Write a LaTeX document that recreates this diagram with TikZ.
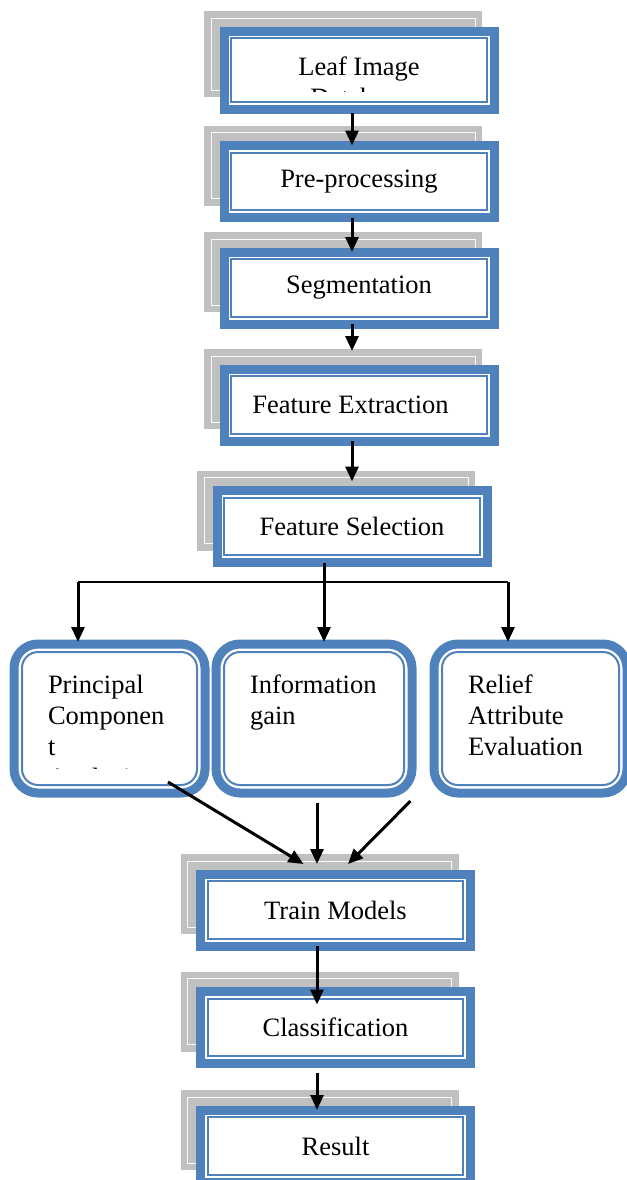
\documentclass[tikz,border=0pt]{standalone}
\usepackage{fontspec}
\setmainfont{Liberation Serif}
\usepackage{tikz}
\usetikzlibrary{arrows.meta}
\usetikzlibrary{backgrounds}
\definecolor{boxblue}{HTML}{4F81BD}
\definecolor{shadegray}{HTML}{C0C0C0}
\newcommand{\boxfont}{\fontsize{13.25pt}{15.5pt}\selectfont}
\tikzstyle{every node}+=[inner sep=0pt, outer sep=0pt]
\tikzstyle{block} = [rectangle, draw=boxblue, fill=white, line width=4.5pt, font=\boxfont, text centered, minimum width=135pt, minimum height=36pt,
  path picture={\draw[boxblue, line width=1pt] ([shift={(3.7pt,-3.7pt)}]path picture bounding box.north west) rectangle ([shift={(-3.7pt,3.7pt)}]path picture bounding box.south east);}]
\tikzstyle{method} = [rectangle, rounded corners=12pt, draw=boxblue, fill=white, line width=4.5pt, minimum height=74.5pt,
  path picture={\draw[boxblue, line width=1pt, rounded corners=8pt] ([shift={(4pt,-4pt)}]path picture bounding box.north west) rectangle ([shift={(-4pt,4pt)}]path picture bounding box.south east);}]
\tikzstyle{boxtext} = [font=\boxfont, align=left, anchor=north west]
\tikzstyle{shadowfill} = [fill=shadegray]
\tikzstyle{shadowline} = [draw=white!90!shadegray, line width=0.45pt]
\tikzstyle{line} = [draw, line width=1.5pt, -{Triangle[length=7.5pt,width=6.5pt]}]
\tikzstyle{forkline} = [draw, line width=1pt]

\begin{document}
\begin{tikzpicture}[x=0.5pt, y=-0.5pt]
  \useasboundingbox (0,0) rectangle (627,1180);
  % Place nodes
  \node [block, minimum height=39pt] (leaf) at (359,70) {};
  \node [block] (pre) at (359,181.5) {Pre-processing};
  \node [block] (seg) at (359,288) {Segmentation};
  \node [block] (fext) at (359,405) {\hspace*{-8.5pt}Feature Extraction};
  \node [block] (fsel) at (352,526.5) {Feature Selection};
  \node [method, minimum width=95.5pt] (pca) at (109.5,718.5) {};
  \node [method, minimum width=98pt] (infogain) at (314,718.5) {};
  \node [method, minimum width=96.5pt] (relief) at (530.5,718.5) {};
  \node [block] (train) at (335.5,910) {Train Models};
  \node [block] (cls) at (335.5,1027.5) {Classification};
  \node [block] (res) at (335.5,1146) {Result};
  % Texts cut off by their boxes
  \begin{scope}
    \clip (228,39.5) rectangle (490,91.5);
    \node [boxtext, anchor=north, align=center] (leaftxt) at (359,57) {Leaf Image\\Database};
  \end{scope}
  \begin{scope}
    \clip (22,652) rectangle (197,768.6);
    \node [boxtext] (pcatxt) at (48,675) {Principal\\Componen\\t\\Analysis};
  \end{scope}
  \node [boxtext] (igtxt) at (250,675) {Information\\gain};
  \node [boxtext] (rftxt) at (468,675) {Relief\\Attribute\\Evaluation};
  % Shadows
  \begin{scope}[on background layer]
    \foreach \b in {leaf,pre,seg,fext,fsel,train,cls,res} {
      \fill [shadowfill] ([shift={(-10pt,10pt)}]\b.north west) rectangle ([shift={(-6pt,6pt)}]\b.south east);
      \draw [shadowline] ([shift={(-6.5pt,6.5pt)}]\b.north west) rectangle ([shift={(-9.5pt,9.5pt)}]\b.south east);
    }
  \end{scope}
  % Draw edges
  \path [line, shorten <=2pt] ([xshift=-3.5pt]leaf.south) -- ([xshift=-3.5pt]pre.north);
  \path [line] ([xshift=-3.5pt]pre.south) -- ([xshift=-3.5pt]seg.north);
  \path [line, shorten >=9pt] ([xshift=-3.5pt]seg.south) -- ([xshift=-3.5pt]fext.north);
  \path [line, shorten >=4.5pt] ([xshift=-3.5pt]fext.south) -- (fsel.north);
  \coordinate (barl) at (78,582);
  \coordinate (barr) at (508,582);
  \path [forkline] (barl) -- (barr);
  \path [line, shorten >=1pt] ([xshift=-14pt]fsel.south) -- ([xshift=-14pt]fsel.south |- infogain.north);
  \path [line, shorten >=1pt] (barl) -- (barl |- pca.north);
  \path [line, shorten >=1pt] (barr) -- (barr |- relief.north);
  \path [line] ([shift={(29.25pt,5.5pt)}]pca.south) -- ([shift={(-16pt,5pt)}]train.north);
  \path [line] ([shift={(1.5pt,-5pt)}]infogain.south) -- ([shift={(-9.25pt,5pt)}]train.north);
  \path [line] ([shift={(-60pt,-4pt)}]relief.south) -- ([shift={(6.25pt,5pt)}]train.north);
  \path [line, shorten >=-6.5pt] ([xshift=-9.25pt]train.south) -- ([xshift=-9.25pt]cls.north);
  \path [line, shorten <=4.5pt] ([xshift=-9.25pt]cls.south) -- ([xshift=-9.25pt]res.north);
\end{tikzpicture}
\end{document}
